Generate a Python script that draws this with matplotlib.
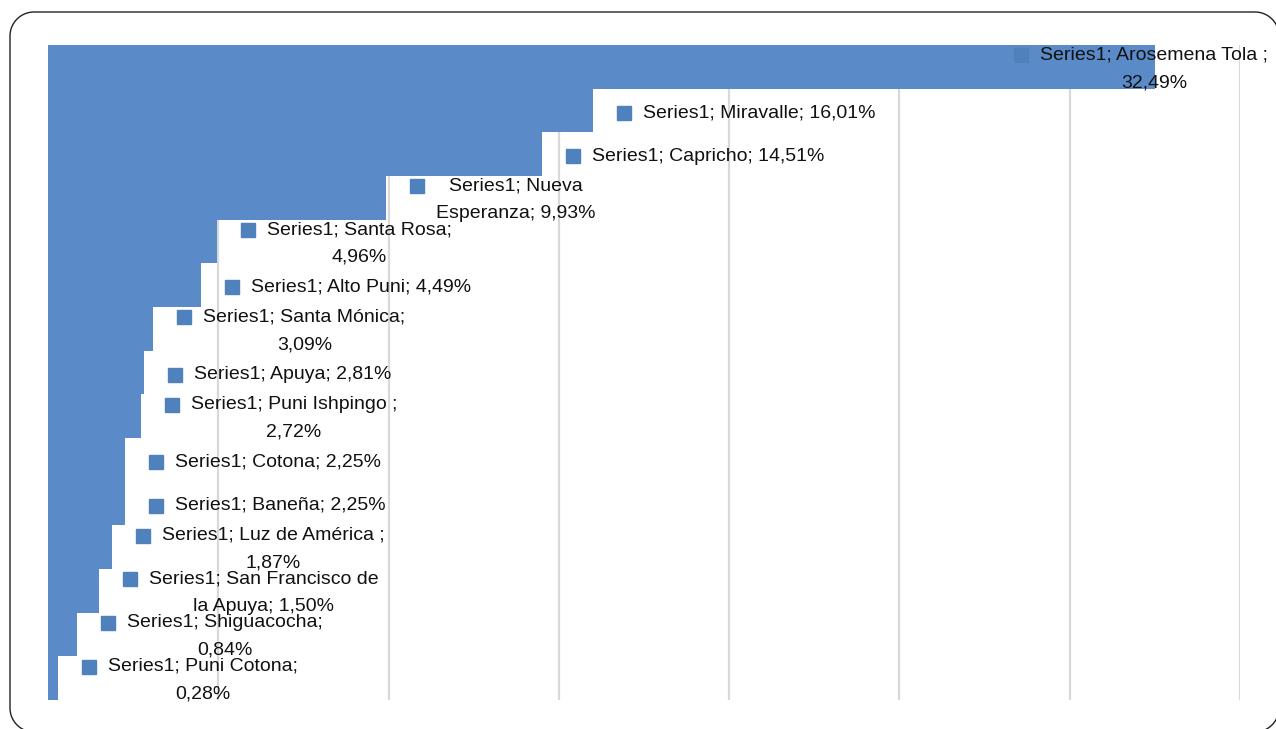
import numpy as np
import matplotlib
matplotlib.use("Agg")
import matplotlib.pyplot as plt
import matplotlib.transforms as mtransforms
from matplotlib.path import Path
from matplotlib.patches import PathPatch

plt.rcParams['font.family'] = ['Liberation Sans', 'DejaVu Sans']

series_name = "Series1"
names = ["Arosemena Tola ", "Miravalle", "Capricho", "Nueva\nEsperanza", "Santa Rosa",
         "Alto Puni", "Santa Mónica", "Apuya", "Puni Ishpingo ", "Cotona", "Baneña",
         "Luz de América ", "San Francisco de\nla Apuya", "Shiguacocha", "Puni Cotona"]
values = [32.49, 16.01, 14.51, 9.93, 4.96, 4.49, 3.09, 2.81, 2.72, 2.25, 2.25,
          1.87, 1.50, 0.84, 0.28]
break_before_value = [True, False, False, False, True, False, True, False, True,
                      False, False, True, False, True, True]
x_ticks = [0, 5, 10, 15, 20, 25, 30, 35]

BAR = '#5A8BC8'
MARK = '#4F81BD'
GRID = '#D9D9D9'

W, H, DPI = 1276, 729, 100
fig = plt.figure(figsize=(W / DPI, H / DPI), dpi=DPI)
fig.patch.set_facecolor('white')


def rounded_rect(x0, y0, x1, y1, r, n=24):
    """Closed rounded-rectangle outline in display pixels (origin bottom-left)."""
    pts = []
    corners = [((x1 - r, y1 - r), 0.0), ((x0 + r, y1 - r), 90.0),
               ((x0 + r, y0 + r), 180.0), ((x1 - r, y0 + r), 270.0)]
    for (cx, cy), a0 in corners:
        th = np.radians(np.linspace(a0, a0 + 90.0, n))
        pts.extend(zip(cx + r * np.cos(th), cy + r * np.sin(th)))
    pts.append(pts[0])
    return Path(np.array(pts))


# border: left x=10, top y=12 (from top), extends slightly past right/bottom edges
border = PathPatch(rounded_rect(10, -3, 1279, H - 12, 24), transform=None,
                   fill=False, edgecolor='#222222', linewidth=1.0, zorder=0)
fig.patches.append(border)

ax = fig.add_axes([48 / W, 1 - 700 / H, (1240 - 48) / W, (700 - 45) / H])
ax.set_facecolor('none')
ax.set_xlim(0, 35)
ax.set_ylim(len(values) - 0.5, -0.5)
for s in ax.spines.values():
    s.set_visible(False)
ax.set_xticks(x_ticks)
ax.set_yticks([])
ax.tick_params(axis='x', length=0, labelbottom=False)
ax.grid(axis='x', color=GRID, linewidth=1.6)
ax.set_axisbelow(True)

ypos = list(range(len(values)))
ax.barh(ypos, values, height=1.0, color=BAR, edgecolor='none', zorder=2)

fig.canvas.draw()
renderer = fig.canvas.get_renderer()

FS = 14
LINE_PX = 27
MARK_DX = 31   # pixels from bar end to marker centre
TEXT_DX = 19   # pixels from marker centre to text block

for i, (name, v, brk) in enumerate(zip(names, values, break_before_value)):
    val = f"{v:.2f}".replace('.', ',') + '%'
    sep = ";\n" if brk else "; "
    label = f"{series_name}; {name}{sep}{val}"
    nlines = label.count('\n') + 1
    dx = MARK_DX + TEXT_DX
    t = ax.annotate(label, xy=(v, i), xycoords='data',
                    xytext=(dx, -2), textcoords='offset pixels',
                    ha='left', va='center', multialignment='center',
                    fontsize=FS, linespacing=1.8, color='#111111',
                    zorder=5, annotation_clip=False)
    bb = t.get_window_extent(renderer)
    shift = 0
    if bb.x1 > W - 8:
        shift = (W - 8) - bb.x1
        t.xyann = (dx + shift, -2)
    my = -2 + (nlines - 1) * LINE_PX / 2.0
    tr = mtransforms.offset_copy(ax.transData, fig=fig,
                                 x=MARK_DX + shift, y=my, units='dots')
    ax.plot([v], [i], marker='s', markersize=9.5, color=MARK,
            linestyle='none', transform=tr, zorder=4, clip_on=False)

fig.savefig('out.png', dpi=DPI, facecolor='white')
